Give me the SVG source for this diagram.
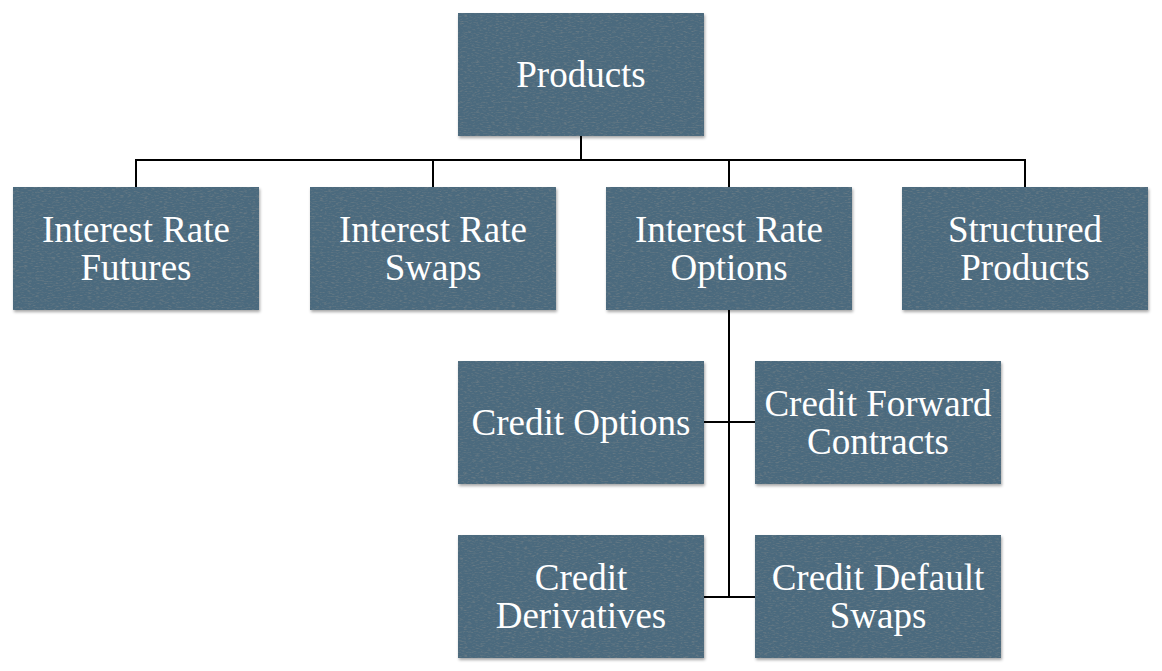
<svg xmlns="http://www.w3.org/2000/svg" width="1162" height="671" viewBox="0 0 1162 671">
<style>
.box{fill:#4b6a7e;filter:url(#sh)}
.tx{fill:#000;filter:url(#tex)}
.lbl{font-family:"Liberation Serif","Times New Roman",serif;font-size:37px;fill:#ffffff;text-anchor:middle}
.con{fill:none;stroke:#000;stroke-width:2}
</style>
<defs>
<filter id="sh" x="-5%" y="-5%" width="115%" height="115%">
<feGaussianBlur in="SourceAlpha" stdDeviation="1.5"/>
<feOffset dx="1" dy="1.5" result="b"/>
<feColorMatrix in="b" type="matrix" values="0 0 0 0 0  0 0 0 0 0  0 0 0 0 0  0 0 0 0.35 0" result="s"/>
<feMerge><feMergeNode in="s"/><feMergeNode in="SourceGraphic"/></feMerge>
</filter>
<filter id="tex" x="0" y="0" width="1" height="1">
<feTurbulence type="fractalNoise" baseFrequency="0.25 0.8" numOctaves="3" seed="7"/>
<feColorMatrix type="matrix" values="0 0 0 0 0.13  0 0 0 0 0.19  0 0 0 0 0.23  3 0 0 0 -1.45"/>
<feComposite in2="SourceGraphic" operator="in"/>
</filter>
</defs>
<rect width="1162" height="671" fill="#fff"/>
<g id="connectors">
<path class="con" d="M581 136V160M136 187V160H1025V187M433 160V187M729 160V187"/>
<path class="con" d="M729 310V597M704 422H755M704 597H755"/>
</g>
<g id="products"><rect class="box" x="458" y="13" width="246" height="123"/><rect class="tx" x="458" y="13" width="246" height="123"/><text class="lbl" x="581" y="87">Products</text></g>
<g id="ir-futures"><rect class="box" x="13" y="187" width="246" height="123"/><rect class="tx" x="13" y="187" width="246" height="123"/><text class="lbl" x="136" y="242">Interest Rate</text><text class="lbl" x="136" y="280">Futures</text></g>
<g id="ir-swaps"><rect class="box" x="310" y="187" width="246" height="123"/><rect class="tx" x="310" y="187" width="246" height="123"/><text class="lbl" x="433" y="242">Interest Rate</text><text class="lbl" x="433" y="280">Swaps</text></g>
<g id="ir-options"><rect class="box" x="606" y="187" width="246" height="123"/><rect class="tx" x="606" y="187" width="246" height="123"/><text class="lbl" x="729" y="242">Interest Rate</text><text class="lbl" x="729" y="280">Options</text></g>
<g id="structured"><rect class="box" x="902" y="187" width="246" height="123"/><rect class="tx" x="902" y="187" width="246" height="123"/><text class="lbl" x="1025" y="242">Structured</text><text class="lbl" x="1025" y="280">Products</text></g>
<g id="credit-options"><rect class="box" x="458" y="361" width="246" height="123"/><rect class="tx" x="458" y="361" width="246" height="123"/><text class="lbl" x="581" y="435">Credit Options</text></g>
<g id="credit-forward"><rect class="box" x="755" y="361" width="246" height="123"/><rect class="tx" x="755" y="361" width="246" height="123"/><text class="lbl" x="878" y="416">Credit Forward</text><text class="lbl" x="878" y="454">Contracts</text></g>
<g id="credit-derivatives"><rect class="box" x="458" y="535" width="246" height="123"/><rect class="tx" x="458" y="535" width="246" height="123"/><text class="lbl" x="581" y="590">Credit</text><text class="lbl" x="581" y="628">Derivatives</text></g>
<g id="cds"><rect class="box" x="755" y="535" width="246" height="123"/><rect class="tx" x="755" y="535" width="246" height="123"/><text class="lbl" x="878" y="590">Credit Default</text><text class="lbl" x="878" y="628">Swaps</text></g>
</svg>
